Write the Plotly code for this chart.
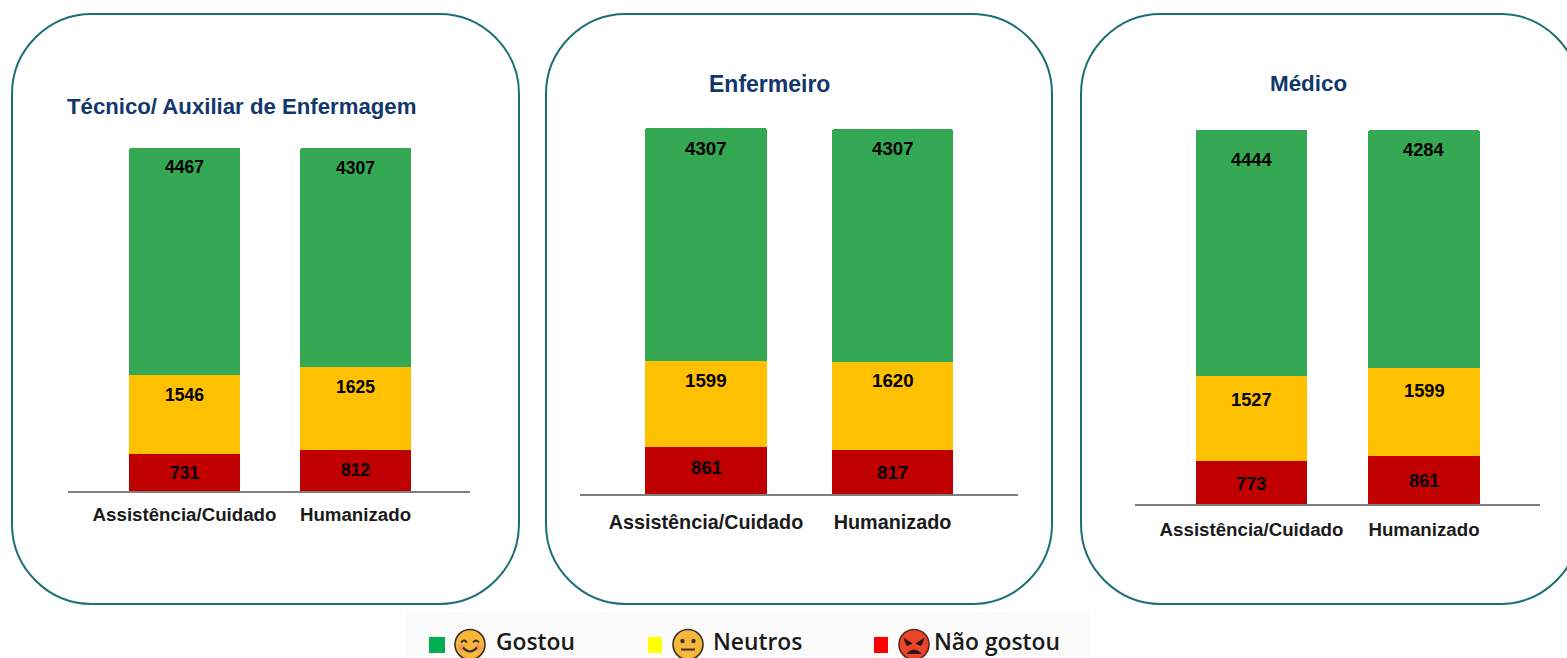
import plotly.graph_objects as go

W, H = 1567, 658

categories = ["Assistência/Cuidado", "Humanizado"]
panel_titles = ["Técnico/ Auxiliar de Enfermagem", "Enfermeiro", "Médico"]
series_names = ["Não gostou", "Neutros", "Gostou"]

tecnico_gostou = [4467, 4307]
tecnico_neutros = [1546, 1625]
tecnico_nao_gostou = [731, 812]
enfermeiro_gostou = [4307, 4307]
enfermeiro_neutros = [1599, 1620]
enfermeiro_nao_gostou = [861, 817]
medico_gostou = [4444, 4284]
medico_neutros = [1527, 1599]
medico_nao_gostou = [773, 861]

panel_data = [
    (tecnico_nao_gostou, tecnico_neutros, tecnico_gostou),
    (enfermeiro_nao_gostou, enfermeiro_neutros, enfermeiro_gostou),
    (medico_nao_gostou, medico_neutros, medico_gostou),
]
bar_colors = ["#C00000", "#FFC000", "#34A853"]
TEAL = "#1C6F75"
NAVY = "#12376B"


def X(p):
    return p / W


def Y(p):
    return 1 - p / H


# geometry of each panel in pixels; shifts = (red, yellow, green) label offsets per bar
panels = [
    dict(box=(12, 14, 519, 604), line=(68, 470), c=(184.5, 355.5), bw=111, base=491, top=148,
         title=(241, 106), ts=22.2, tick=18.7, val=17.5, standoff=6,
         shifts=[(1, 20, 19), (0, 20, 20)]),
    dict(box=(546, 14, 1052, 604), line=(580, 1018), c=(706, 892.5), bw=121.5, base=494, top=128,
         title=(769, 84), ts=23, tick=19.8, val=18.7, standoff=9,
         shifts=[(-3, 20, 20), (1, 18, 19)]),
    dict(box=(1081, 14, 1580, 604), line=(1135, 1540), c=(1251.5, 1424), bw=111.5, base=504, top=130,
         title=(1308, 84), ts=22.4, tick=18.7, val=18.3, standoff=8,
         shifts=[(1, 23, 29), (0, 23, 19)]),
]

fig = go.Figure()
shapes, annotations, layout_axes = [], [], {}

for i, (p, vals) in enumerate(zip(panels, panel_data)):
    n = "" if i == 0 else str(i + 1)
    step = p["c"][1] - p["c"][0]
    x0 = (p["line"][0] - p["c"][0]) / step
    x1 = (p["line"][1] - p["c"][0]) / step
    total = max(sum(v[j] for v in vals) for j in range(2))
    for name, v, col in zip(series_names, vals, bar_colors):
        fig.add_trace(go.Bar(x=categories, y=v, name=name, marker=dict(color=col, line=dict(width=0)),
                             width=p["bw"] / step, xaxis="x" + n, yaxis="y" + n,
                             showlegend=False, hovertemplate="%{x}: %{y}<extra>" + name + "</extra>"))
    layout_axes["xaxis" + n] = dict(
        domain=[X(p["line"][0]), X(p["line"][1])], range=[x0, x1], type="category",
        showline=True, linecolor="#7F7F7F", linewidth=1.5, ticks="", showgrid=False,
        anchor="y" + n, tickfont=dict(family="Liberation Sans", size=p["tick"], color="#1A1A1A", weight=700),
        ticklabelstandoff=p["standoff"], fixedrange=True, automargin=False,
    )
    layout_axes["yaxis" + n] = dict(
        domain=[Y(p["base"]), Y(p["top"])], range=[0, total], visible=False,
        anchor="x" + n, fixedrange=True,
    )
    # data labels
    for j, cat in enumerate(categories):
        red, yel, grn = vals[0][j], vals[1][j], vals[2][j]
        s_red, s_yel, s_grn = p["shifts"][j]
        for yy, txt, sh in ((red / 2, red, s_red), (red + yel, yel, s_yel), (red + yel + grn, grn, s_grn)):
            annotations.append(dict(x=cat, y=yy, xref="x" + n, yref="y" + n, text=str(txt), showarrow=False,
                                    yshift=-sh, xanchor="center", yanchor="middle",
                                    font=dict(family="Liberation Sans", size=p["val"], color="#000000", weight=700)))
    # rounded frame
    a, b, c, d = p["box"]
    r = 80
    k = r * 0.45
    path = (f"M {X(a+r)} {Y(b)} L {X(c-r)} {Y(b)} C {X(c-k)} {Y(b)} {X(c)} {Y(b+k)} {X(c)} {Y(b+r)} "
            f"L {X(c)} {Y(d-r)} C {X(c)} {Y(d-k)} {X(c-k)} {Y(d)} {X(c-r)} {Y(d)} "
            f"L {X(a+r)} {Y(d)} C {X(a+k)} {Y(d)} {X(a)} {Y(d-k)} {X(a)} {Y(d-r)} "
            f"L {X(a)} {Y(b+r)} C {X(a)} {Y(b+k)} {X(a+k)} {Y(b)} {X(a+r)} {Y(b)} Z")
    shapes.append(dict(type="path", path=path, xref="paper", yref="paper",
                       line=dict(color=TEAL, width=2), fillcolor="rgba(0,0,0,0)", layer="below"))
    annotations.append(dict(x=X(p["title"][0]), y=Y(p["title"][1]), xref="paper", yref="paper",
                            text=panel_titles[i], showarrow=False, xanchor="center", yanchor="middle",
                            font=dict(family="Liberation Sans", size=p["ts"], color=NAVY, weight=700)))


def rect(x0, y0, x1, y1, fill, layer="above"):
    shapes.append(dict(type="rect", xref="paper", yref="paper", x0=X(x0), x1=X(x1), y0=Y(y0), y1=Y(y1),
                       fillcolor=fill, line=dict(width=0), layer=layer))


def circ(cx, cy, r, fill, line=None, lw=0):
    shapes.append(dict(type="circle", xref="paper", yref="paper", x0=X(cx - r), x1=X(cx + r),
                       y0=Y(cy + r), y1=Y(cy - r), fillcolor=fill,
                       line=dict(width=lw, color=line or fill)))


def curve(d, color, w=2, fill="rgba(0,0,0,0)"):
    parts = []
    for t in d:
        if isinstance(t, str):
            parts.append(t)
        else:
            parts.append(f"{X(t[0])} {Y(t[1])}")
    shapes.append(dict(type="path", xref="paper", yref="paper", path=" ".join(parts),
                       line=dict(color=color, width=w), fillcolor=fill))


# legend strip
rect(406, 612, 1090, 658, "#FBFBFB", layer="below")
DARK = "#3A3226"
legend_items = [("Gostou", "#00B050", 429, 445, 494),
                ("Neutros", "#FFFF00", 648, 662, 711),
                ("Não gostou", "#FF0000", 874, 888, 932)]
for label, col, sx0, sx1, tx in legend_items:
    rect(sx0, 637, sx1, 653, col)
    annotations.append(dict(x=X(tx), y=Y(641.5), xref="paper", yref="paper", text=label, showarrow=False,
                            xanchor="left", yanchor="middle",
                            font=dict(family="Open Sans", size=22.8, color="#1A1A1A", weight=600)))

# Gostou face
fx, fy = 470, 644.5
circ(fx, fy, 15, "#F6B73C", DARK, 1.6)
circ(fx - 8.5, fy + 3, 3.5, "#F39A5B")
circ(fx + 8.5, fy + 3, 3.5, "#F39A5B")
curve(["M", (fx - 9, fy - 2), "Q", (fx - 6, fy - 6), (fx - 3, fy - 2)], DARK, 1.8)
curve(["M", (fx + 3, fy - 2), "Q", (fx + 6, fy - 6), (fx + 9, fy - 2)], DARK, 1.8)
curve(["M", (fx - 7, fy + 3), "Q", (fx, fy + 11), (fx + 7, fy + 3)], DARK, 2)
# Neutros face
fx = 688
circ(fx, fy, 15, "#F6B73C", DARK, 1.6)
circ(fx - 5.5, fy - 3.5, 2.2, DARK)
circ(fx + 5.5, fy - 3.5, 2.2, DARK)
curve(["M", (fx - 7, fy + 5), "L", (fx + 7, fy + 5)], DARK, 2)
# Não gostou face
fx = 914
circ(fx, fy, 15, "#E8452A", "#5A2A20", 1.6)
curve(["M", (fx - 10, fy - 6), "L", (fx - 2, fy - 1), "L", (fx - 7, fy + 1), "Z"], "#2A1410", 1, "#2A1410")
curve(["M", (fx + 10, fy - 6), "L", (fx + 2, fy - 1), "L", (fx + 7, fy + 1), "Z"], "#2A1410", 1, "#2A1410")
curve(["M", (fx - 7, fy + 9), "Q", (fx, fy + 2), (fx + 7, fy + 9), "Z"], "#2A1410", 1, "#2A1410")

fig.update_layout(
    width=W, height=H, margin=dict(l=0, r=0, t=0, b=0, pad=0, autoexpand=False),
    paper_bgcolor="white", plot_bgcolor="rgba(0,0,0,0)", barmode="stack", barcornerradius=2,
    showlegend=False, shapes=shapes, annotations=annotations, **layout_axes,
)
fig.write_html("out.html", config={"displayModeBar": False},
               post_script="document.body.style.margin='0';")
